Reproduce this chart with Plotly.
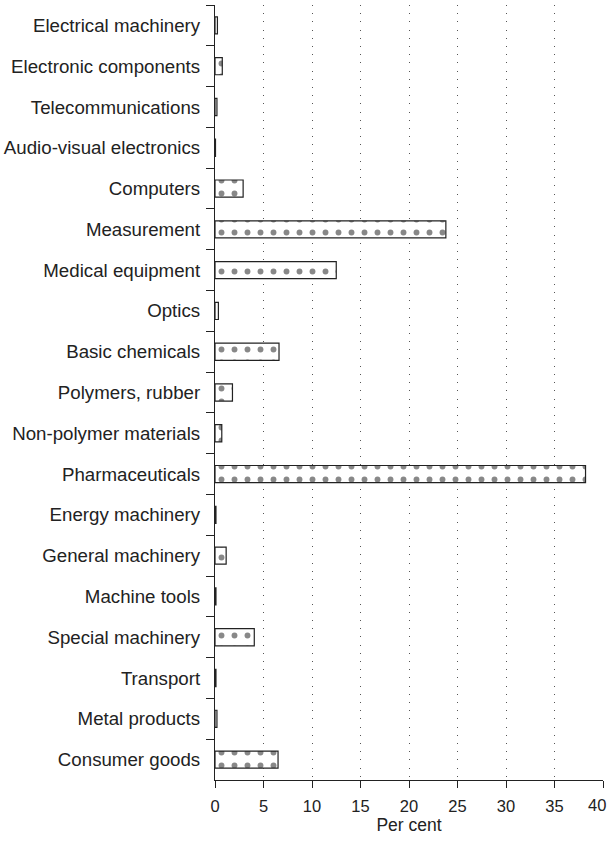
import plotly.graph_objects as go

categories = [
    "Electrical machinery", "Electronic components", "Telecommunications",
    "Audio-visual electronics", "Computers", "Measurement", "Medical equipment",
    "Optics", "Basic chemicals", "Polymers, rubber", "Non-polymer materials",
    "Pharmaceuticals", "Energy machinery", "General machinery", "Machine tools",
    "Special machinery", "Transport", "Metal products", "Consumer goods",
]
values = [0.25, 0.75, 0.2, 0.05, 2.9, 23.8, 12.5, 0.35, 6.6, 1.8, 0.7,
          38.2, 0.1, 1.15, 0.1, 4.05, 0.1, 0.2, 6.5]
x_ticks = [0, 5, 10, 15, 20, 25, 30, 35, 40]
x_tick_labels = ["0", "5", "10", "15", "20", "25", "30", "35", "40"]

FONT = "Liberation Sans, Arial, sans-serif"
TICK_SIZE = 16.5

fig = go.Figure(go.Bar(
    y=categories, x=values, orientation="h",
    marker=dict(
        color="white",
        line=dict(color="#222", width=1.2),
        pattern=dict(shape=".", size=13, solidity=0.16, fgcolor="#111", bgcolor="white"),
    ),
    width=0.42,
))

fig.update_layout(
    width=611, height=846,
    margin=dict(l=215, r=8, t=5, b=66),
    paper_bgcolor="white", plot_bgcolor="white",
    showlegend=False,
    font=dict(family=FONT, color="#222"),
)
# last tick label is right-aligned at the plot edge so it stays inside the page
shown = [t if v != x_ticks[-1] else "" for v, t in zip(x_ticks, x_tick_labels)]
fig.add_annotation(
    x=x_ticks[-1], xref="x", y=0, yref="paper",
    text=x_tick_labels[-1], showarrow=False,
    xanchor="right", yanchor="middle", xshift=5, yshift=-25,
    font=dict(size=TICK_SIZE, family=FONT, color="#222"),
)
fig.update_xaxes(
    range=[0, 40], tickvals=x_ticks, ticktext=shown,
    showline=True, linecolor="#222", linewidth=1.2,
    ticks="outside", ticklen=7, tickcolor="#222", tickwidth=1.2,
    tickfont=dict(size=TICK_SIZE, family=FONT, color="#222"),
    ticklabelstandoff=4,
    showgrid=True, gridcolor="#555", gridwidth=1, griddash="1px,7.2px",
    zeroline=False, automargin=False,
    title=dict(text="Per cent", font=dict(size=17.5, family=FONT, color="#222"), standoff=4),
)
fig.update_yaxes(
    categoryorder="array", categoryarray=categories, autorange="reversed",
    showline=True, linecolor="#222", linewidth=1.2,
    ticks="outside", ticklen=8, tickcolor="#222", tickwidth=1.2,
    tickson="boundaries",
    tickfont=dict(size=18.7, family=FONT, color="#222"),
    ticklabelstandoff=10,
    showgrid=False, zeroline=False, automargin=False,
)

fig.write_html("out.html", config={"displayModeBar": False},
               post_script="document.body.style.margin='0';")
